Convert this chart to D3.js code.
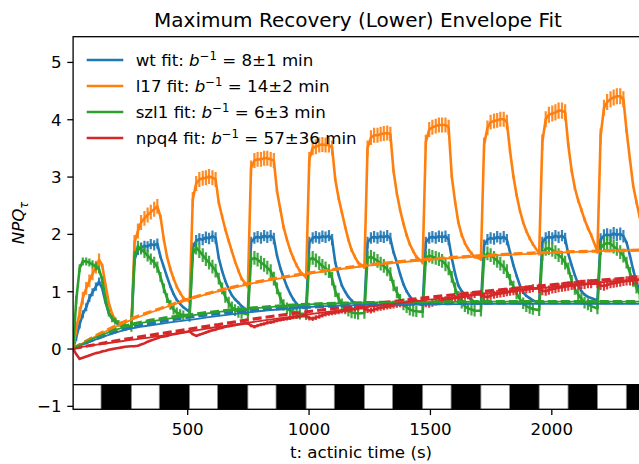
<!DOCTYPE html>
<html><head><meta charset="utf-8">
<script src="https://cdn.jsdelivr.net/npm/d3@7"></script>
<style>
html,body{margin:0;padding:0;background:#fff;}
svg{display:block;font-family:"DejaVu Sans",sans-serif;}
text{white-space:pre;}
</style></head><body>
<svg id="chart" width="639" height="464"></svg>
<script>
// ---------------- data ----------------
const genotypes = ["wt", "l17", "szl1", "npq4"];
const lifetimes = ["8\u00b11", "14\u00b12", "6\u00b13", "57\u00b136"];
const colors = ["#1f77b4", "#ff7f0e", "#2ca02c", "#d62728"];

// start of each light period (s) and sample offsets within a cycle (s)
const cycleStarts = [30, 270, 510, 750, 990, 1230, 1470, 1710, 1950, 2190];
const sampleOffsets = [0, 13, 27, 40, 54, 67, 80, 94, 107, 120, 134, 147, 161, 174, 187, 201, 214];

// light bar (white = actinic light on)
const lightOn  = [30, 270, 510, 750, 990, 1230, 1470, 1710, 1950, 2190];
const lightOff = [145, 385, 625, 866, 1106, 1346, 1587, 1828, 2069, 2309];

const xTicks = [500, 1000, 1500, 2000];
const yTicks = [-1, 0, 1, 2, 3, 4, 5];

// NPQ per cycle (rows) at sampleOffsets (columns)
const wtNPQ = [
  [0, 0.2, 0.42, 0.6, 0.72, 0.88, 0.98, 1.08, 1.17, 1.05, 0.8, 0.62, 0.52, 0.46, 0.42, 0.4, 0.38],
  [0.37, 1.55, 1.72, 1.76, 1.79, 1.78, 1.82, 1.8, 1.83, 1.6, 1.42, 1.25, 1.08, 0.95, 0.85, 0.78, 0.72],
  [0.64, 1.75, 1.88, 1.91, 1.9, 1.94, 1.92, 1.96, 1.93, 1.58, 1.35, 1.18, 1.04, 0.93, 0.86, 0.8, 0.74],
  [0.66, 1.85, 1.93, 1.95, 1.93, 1.97, 1.94, 1.97, 1.92, 1.62, 1.4, 1.24, 1.08, 0.96, 0.86, 0.78, 0.73],
  [0.7, 1.85, 1.93, 1.95, 1.93, 1.96, 1.94, 1.97, 1.9, 1.5, 1.28, 1.1, 0.99, 0.9, 0.84, 0.79, 0.76],
  [0.73, 1.85, 1.93, 1.95, 1.93, 1.96, 1.94, 1.97, 1.92, 1.68, 1.5, 1.3, 1.12, 1.0, 0.91, 0.84, 0.79],
  [0.76, 1.85, 1.93, 1.95, 1.93, 1.96, 1.94, 1.96, 1.9, 1.58, 1.3, 1.1, 1.0, 0.95, 0.9, 0.85, 0.82],
  [0.77, 1.8, 1.9, 1.93, 1.91, 1.95, 1.92, 1.95, 1.9, 1.68, 1.45, 1.27, 1.1, 0.98, 0.92, 0.88, 0.84],
  [0.8, 1.85, 1.93, 1.95, 1.93, 1.97, 1.94, 1.97, 1.92, 1.65, 1.45, 1.28, 1.12, 1.0, 0.94, 0.9, 0.88],
  [0.84, 1.9, 1.97, 1.99, 1.97, 2.01, 1.98, 2.0, 1.96, 1.85, 1.62, 1.38, 1.15, 1.02, 0.95, 0.9, 0.87]
];
const l17NPQ = [
  [0, 0.35, 0.62, 0.88, 1.05, 1.18, 1.3, 1.42, 1.55, 1.45, 1.1, 0.8, 0.6, 0.5, 0.44, 0.4, 0.38],
  [0.37, 1.85, 2.05, 2.2, 2.27, 2.33, 2.38, 2.43, 2.48, 2.3, 1.9, 1.6, 1.38, 1.22, 1.08, 0.97, 0.88],
  [0.82, 2.6, 2.88, 2.95, 2.97, 2.98, 3.0, 2.98, 2.95, 2.55, 2.3, 2.08, 1.88, 1.7, 1.52, 1.36, 1.22],
  [1.08, 3.15, 3.28, 3.3, 3.3, 3.32, 3.32, 3.3, 3.28, 2.75, 2.42, 2.12, 1.9, 1.72, 1.58, 1.45, 1.35],
  [1.24, 3.3, 3.5, 3.52, 3.55, 3.56, 3.55, 3.55, 3.5, 2.95, 2.62, 2.38, 2.12, 1.9, 1.72, 1.6, 1.5],
  [1.42, 3.5, 3.68, 3.72, 3.72, 3.74, 3.75, 3.76, 3.74, 3.1, 2.7, 2.42, 2.18, 1.98, 1.82, 1.7, 1.6],
  [1.5, 3.6, 3.82, 3.86, 3.88, 3.9, 3.9, 3.9, 3.86, 3.0, 2.55, 2.2, 1.98, 1.84, 1.74, 1.66, 1.6],
  [1.56, 3.55, 3.85, 3.95, 3.97, 3.98, 4.0, 4.0, 3.95, 3.45, 3.0, 2.68, 2.4, 2.2, 2.05, 1.92, 1.82],
  [1.66, 3.6, 4.0, 4.08, 4.1, 4.12, 4.15, 4.15, 4.12, 3.55, 3.1, 2.8, 2.58, 2.42, 2.25, 2.1, 1.98],
  [1.69, 3.7, 4.2, 4.3, 4.35, 4.38, 4.4, 4.4, 4.35, 3.8, 3.3, 2.85, 2.55, 2.3, 2.12, 1.98, 1.88]
];
const szl1NPQ = [
  [0, 0.85, 1.4, 1.52, 1.52, 1.5, 1.47, 1.43, 1.38, 1.2, 0.85, 0.62, 0.52, 0.48, 0.44, 0.42, 0.4],
  [0.38, 1.6, 1.78, 1.74, 1.68, 1.62, 1.56, 1.5, 1.42, 1.25, 1.05, 0.88, 0.76, 0.68, 0.63, 0.6, 0.58],
  [0.57, 1.65, 1.76, 1.7, 1.63, 1.56, 1.5, 1.43, 1.36, 1.22, 1.05, 0.9, 0.8, 0.72, 0.67, 0.64, 0.62],
  [0.6, 1.55, 1.58, 1.55, 1.5, 1.46, 1.41, 1.35, 1.22, 1.05, 0.88, 0.76, 0.7, 0.66, 0.64, 0.62, 0.61],
  [0.6, 1.55, 1.58, 1.54, 1.49, 1.44, 1.4, 1.35, 1.22, 1.0, 0.87, 0.77, 0.7, 0.66, 0.63, 0.62, 0.61],
  [0.62, 1.58, 1.6, 1.57, 1.53, 1.48, 1.44, 1.38, 1.3, 1.1, 0.98, 0.85, 0.77, 0.72, 0.68, 0.66, 0.65],
  [0.64, 1.58, 1.62, 1.6, 1.58, 1.56, 1.53, 1.47, 1.4, 1.25, 1.05, 0.9, 0.8, 0.74, 0.7, 0.68, 0.66],
  [0.66, 1.58, 1.66, 1.63, 1.58, 1.53, 1.48, 1.42, 1.35, 1.2, 1.08, 0.96, 0.86, 0.79, 0.74, 0.71, 0.69],
  [0.67, 1.65, 1.74, 1.75, 1.72, 1.68, 1.63, 1.58, 1.5, 1.4, 1.18, 1.04, 0.94, 0.87, 0.8, 0.77, 0.74],
  [0.7, 1.75, 1.82, 1.84, 1.83, 1.78, 1.74, 1.68, 1.62, 1.5, 1.32, 1.18, 1.06, 0.96, 0.88, 0.82, 0.78]
];
const npq4NPQ = [
  [0, -0.1, -0.18, -0.16, -0.14, -0.12, -0.1, -0.08, -0.07, -0.05, -0.04, -0.02, -0.01, 0.0, 0.01, 0.02, 0.03],
  [0.04, 0.04, 0.05, 0.07, 0.09, 0.12, 0.14, 0.16, 0.18, 0.2, 0.21, 0.22, 0.24, 0.25, 0.26, 0.27, 0.28],
  [0.3, 0.25, 0.22, 0.24, 0.26, 0.28, 0.3, 0.32, 0.33, 0.35, 0.36, 0.38, 0.39, 0.4, 0.41, 0.42, 0.43],
  [0.44, 0.4, 0.38, 0.4, 0.42, 0.43, 0.45, 0.46, 0.47, 0.49, 0.5, 0.51, 0.52, 0.53, 0.54, 0.55, 0.56],
  [0.57, 0.53, 0.52, 0.54, 0.56, 0.58, 0.6, 0.61, 0.62, 0.63, 0.64, 0.65, 0.66, 0.67, 0.68, 0.69, 0.7],
  [0.71, 0.67, 0.66, 0.68, 0.7, 0.71, 0.72, 0.73, 0.74, 0.75, 0.76, 0.77, 0.78, 0.79, 0.8, 0.81, 0.82],
  [0.82, 0.78, 0.77, 0.79, 0.81, 0.83, 0.84, 0.85, 0.86, 0.87, 0.88, 0.89, 0.9, 0.91, 0.92, 0.93, 0.94],
  [0.95, 0.91, 0.9, 0.92, 0.94, 0.95, 0.96, 0.97, 0.98, 0.99, 1.0, 1.01, 1.02, 1.02, 1.03, 1.04, 1.05],
  [1.05, 1.01, 1.0, 1.02, 1.04, 1.05, 1.06, 1.07, 1.08, 1.09, 1.1, 1.1, 1.11, 1.12, 1.12, 1.13, 1.13],
  [1.13, 1.1, 1.09, 1.11, 1.13, 1.14, 1.15, 1.16, 1.17, 1.18, 1.18, 1.19, 1.2, 1.2, 1.21, 1.21, 1.22]
];

// error (sd) during light, per cycle; dark-phase error as a fraction of it
const wtErr   = [0.07, 0.09, 0.1, 0.1, 0.1, 0.1, 0.1, 0.1, 0.1, 0.11];
const l17Err  = [0.11, 0.13, 0.13, 0.13, 0.13, 0.13, 0.13, 0.13, 0.14, 0.14];
const szl1Err = [0.07, 0.1, 0.12, 0.12, 0.12, 0.12, 0.12, 0.12, 0.12, 0.12];
const npq4Err = [0.01, 0.01, 0.02, 0.03, 0.04, 0.05, 0.06, 0.07, 0.08, 0.08];
const darkErrFraction = [0.2, 0.25, 0.85, 1.0];

// envelope fits
const fitTimes = [30, 150, 270, 390, 510, 630, 750, 990, 1230, 1470, 1710, 1950, 2190, 2400];
const wtFit   = [0, 0.2, 0.35, 0.43, 0.5, 0.57, 0.63, 0.72, 0.76, 0.77, 0.78, 0.78, 0.78, 0.78];
const l17Fit  = [0, 0.27, 0.5, 0.69, 0.86, 1.0, 1.12, 1.3, 1.44, 1.54, 1.61, 1.66, 1.7, 1.72];
const szl1Fit = [0, 0.24, 0.41, 0.5, 0.57, 0.64, 0.69, 0.77, 0.8, 0.81, 0.82, 0.82, 0.82, 0.82];
const npq4Fit = [0, 0.08, 0.15, 0.22, 0.3, 0.38, 0.45, 0.59, 0.72, 0.84, 0.95, 1.05, 1.15, 1.22];
const wtEnv   = [0, 0.21, 0.37, 0.47, 0.55, 0.61, 0.66, 0.72, 0.76, 0.78, 0.79, 0.8, 0.8, 0.8];
const l17Env  = [0, 0.28, 0.52, 0.7, 0.87, 1.01, 1.13, 1.31, 1.45, 1.55, 1.62, 1.67, 1.7, 1.72];
const szl1Env = [0, 0.25, 0.42, 0.52, 0.59, 0.65, 0.7, 0.77, 0.8, 0.81, 0.82, 0.82, 0.82, 0.82];
const npq4Env = [0, 0.09, 0.18, 0.26, 0.34, 0.42, 0.5, 0.64, 0.76, 0.88, 0.99, 1.09, 1.19, 1.25];

// ---------------- drawing ----------------
const svg = d3.select("#chart");
const M = {left: 73.1, right: 648.4, top: 36.7, bottom: 409.3};
const x = d3.scaleLinear().domain([30, 2400]).range([M.left, M.right]);
const y = d3.scaleLinear().domain([-1.06, 5.44]).range([M.bottom, M.top]);
const FS = 16.67;

svg.append("defs").append("clipPath").attr("id", "clip")
  .append("rect").attr("x", M.left).attr("y", M.top)
  .attr("width", M.right - M.left).attr("height", M.bottom - M.top);

const plot = svg.append("g").attr("clip-path", "url(#clip)");

// light / dark bar
plot.append("rect").attr("x", M.left).attr("width", M.right - M.left)
  .attr("y", y(-0.63)).attr("height", y(-1.06) - y(-0.63)).attr("fill", "#000");
plot.selectAll("rect.light").data(d3.range(lightOn.length)).enter().append("rect")
  .attr("class", "light")
  .attr("x", i => x(lightOn[i])).attr("width", i => x(lightOff[i]) - x(lightOn[i]))
  .attr("y", y(-0.63)).attr("height", y(-1.06) - y(-0.63))
  .attr("fill", "#fff").attr("stroke", "#888").attr("stroke-width", 0.8);
plot.append("line").attr("x1", M.left).attr("x2", M.right)
  .attr("y1", y(-0.63)).attr("y2", y(-0.63)).attr("stroke", "#000").attr("stroke-width", 1.3);

const npqSets = [wtNPQ, l17NPQ, szl1NPQ, npq4NPQ];
const errSets = [wtErr, l17Err, szl1Err, npq4Err];
const fitSets = [wtFit, l17Fit, szl1Fit, npq4Fit];
const envSets = [wtEnv, l17Env, szl1Env, npq4Env];

function points(g) {
  const out = [];
  cycleStarts.forEach((c, k) => {
    sampleOffsets.forEach((o, i) => {
      const light = i >= 1 && i <= 8;
      const e = light ? errSets[g][k] : errSets[g][k] * darkErrFraction[g];
      out.push({t: c + o, v: npqSets[g][k][i], e: e});
    });
  });
  return out;
}

const line = d3.line().x(d => x(d.t)).y(d => y(d.v));
genotypes.forEach((name, g) => {
  const pts = points(g);
  const grp = plot.append("g");
  grp.selectAll("line").data(pts).enter().append("line")
    .attr("x1", d => x(d.t)).attr("x2", d => x(d.t))
    .attr("y1", d => y(d.v - d.e)).attr("y2", d => y(d.v + d.e))
    .attr("stroke", colors[g]).attr("stroke-width", 2.2).attr("stroke-opacity", 0.9);
  grp.append("path").datum(pts).attr("d", line)
    .attr("fill", "none").attr("stroke", colors[g]).attr("stroke-width", 2.6)
    .attr("stroke-linejoin", "round");
});

const fitLine = d3.line().x(d => x(d[0])).y(d => y(d[1])).curve(d3.curveMonotoneX);
genotypes.forEach((name, g) => {
  const env = fitTimes.map((t, i) => [t, envSets[g][i]]);
  plot.append("path").datum(env).attr("d", fitLine)
    .attr("fill", "none").attr("stroke", colors[g]).attr("stroke-width", 3.2)
    .attr("stroke-dasharray", "9,4");
});
genotypes.forEach((name, g) => {
  const fit = fitTimes.map((t, i) => [t, fitSets[g][i]]);
  plot.append("path").datum(fit).attr("d", fitLine)
    .attr("fill", "none").attr("stroke", colors[g]).attr("stroke-width", 1.8);
});

// spines
svg.append("rect").attr("x", M.left).attr("y", M.top)
  .attr("width", M.right - M.left).attr("height", M.bottom - M.top)
  .attr("fill", "none").attr("stroke", "#000").attr("stroke-width", 1.3);

// axes
const xAxis = svg.append("g").attr("transform", `translate(0,${M.bottom})`)
  .call(d3.axisBottom(x).tickValues(xTicks).tickSize(5.8).tickPadding(5.8).tickFormat(d3.format("d")));
const yAxis = svg.append("g").attr("transform", `translate(${M.left},0)`)
  .call(d3.axisLeft(y).tickValues(yTicks).tickSize(5.8).tickPadding(5.8)
    .tickFormat(d => d < 0 ? "\u2212" + Math.abs(d) : String(d)));
[xAxis, yAxis].forEach(a => {
  a.select(".domain").remove();
  a.selectAll(".tick line").attr("stroke", "#000").attr("stroke-width", 1.3);
  a.selectAll(".tick text").attr("fill", "#000")
    .style("font-family", "DejaVu Sans").style("font-size", FS + "px");
});
xAxis.selectAll(".tick text").attr("dy", null).attr("y", 25.5);
yAxis.selectAll(".tick text").attr("dy", "0.36em");

// title & labels
svg.append("text").attr("x", 358).attr("y", 26.5).attr("text-anchor", "middle")
  .style("font-size", "20px").attr("fill", "#000").text("Maximum Recovery (Lower) Envelope Fit");
svg.append("text").attr("x", 361).attr("y", 458).attr("text-anchor", "middle")
  .style("font-size", FS + "px").attr("fill", "#000").text("t: actinic time (s)");
const yl = svg.append("text").attr("transform", "translate(24,223) rotate(-90)")
  .attr("text-anchor", "middle").style("font-size", FS + "px").attr("fill", "#000");
yl.append("tspan").style("font-style", "italic").text("NPQ");
yl.append("tspan").style("font-style", "italic").style("font-size", "11.7px").attr("dy", 3.5).text("\u03c4");

// legend
genotypes.forEach((name, g) => {
  const ly = 60 + 26 * g;
  svg.append("line").attr("x1", 86.7).attr("x2", 123.3).attr("y1", ly).attr("y2", ly)
    .attr("stroke", colors[g]).attr("stroke-width", 2.5);
  const t = svg.append("text").attr("x", 135.7).attr("y", ly + 6.3)
    .style("font-size", FS + "px").attr("fill", "#000");
  t.append("tspan").text(name + " fit: ");
  t.append("tspan").style("font-style", "italic").text("b");
  t.append("tspan").style("font-size", "11.7px").attr("dy", -6.5).text("\u22121");
  t.append("tspan").attr("dy", 6.5).text(" = " + lifetimes[g] + " min");
});
</script>
</body></html>
